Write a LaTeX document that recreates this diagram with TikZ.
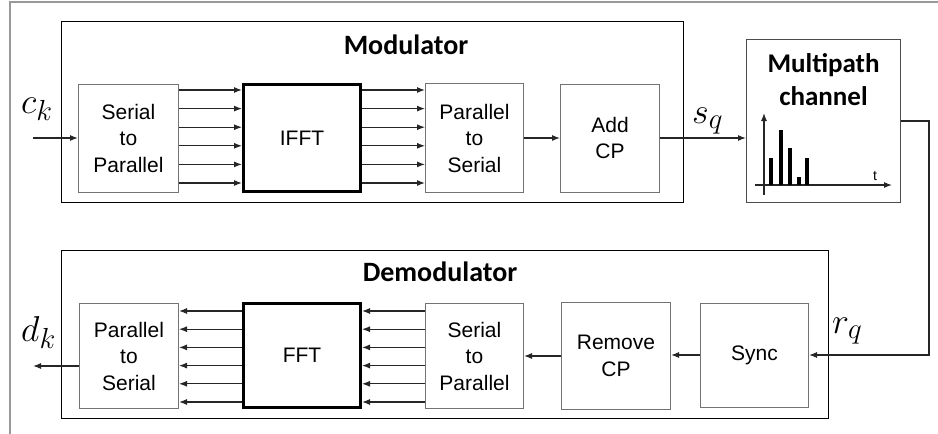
\documentclass[tikz,border=0pt]{standalone}
\usepackage{fix-cm}
\usepackage{fontspec}
\setmainfont{Liberation Sans}
\newfontfamily\titlefont{Carlito}
\DeclareMathSizes{36}{36}{29}{23}
\usetikzlibrary{arrows.meta}

\begin{document}
\begin{tikzpicture}[x=1pt,y=-1pt]
		% Define the styles
		\tikzstyle{block}=[draw=black!55, line width=1pt, inner sep=0pt, align=center,
		font=\fontsize{21}{26.5}\selectfont]
		\tikzstyle{fftblock}=[block, draw=black, line width=3pt]
		\tikzstyle{sig}=[draw=black!85, line width=1.1pt, -{Latex[length=8pt,width=6pt]}]
		\tikzstyle{heading}=[font=\titlefont\bfseries\fontsize{28}{33}\selectfont, align=center]
		\tikzstyle{sym}=[anchor=base west, inner sep=0pt, font=\fontsize{36}{38}\selectfont]
		
		% Page and outer frame
		\useasboundingbox (0,0) rectangle (938,434);
		\draw[black!40, line width=2pt] (10,440) -- (10,2) -- (945,2);
		
		% Modulator
		\draw[line width=1pt] (61,21) rectangle (683,202);
		\node (modtitle) at (406,45) [heading] {Modulator};
		\node (sp1) at (128.5,138) [block, minimum width=100pt, minimum height=108pt] {Serial\\to\\Parallel};
		\node (ifft) at (302,138) [fftblock, minimum width=117pt, minimum height=107pt] {IFFT};
		\node (ps1) at (474.5,138) [block, minimum width=98pt, minimum height=109pt] {Parallel\\to\\Serial};
		\node (addcp) at (610,138) [block, minimum width=99pt, minimum height=108pt] {Add\\CP};
		
		% Multipath channel
		\node (chan) at (823.5,121) [block, draw=black!70, minimum width=154pt, minimum height=163pt] {};
		\node (chantitle) at (823.5,80) [heading, font=\titlefont\bfseries\fontsize{27}{33}\selectfont] {Multipath\\channel};
		\draw[sig] (764,195) -- (764,113);
		\draw[sig] (755,185) -- (892,185);
		\node (t) at (875,176) [font=\fontsize{14}{16}\selectfont] {t};
		\foreach \x/\h in {771/158, 781/130, 790/148, 799/177, 807/158}
		\fill (\x-2,185) rectangle (\x+2,\h);
		
		% Demodulator
		\draw[line width=1pt] (61,250) rectangle (828,418);
		\node (demodtitle) at (440,272) [heading] {Demodulator};
		\node (sync) at (754.5,355) [block, minimum width=108pt, minimum height=104pt] {Sync};
		\node (rmcp) at (616,356) [block, minimum width=109pt, minimum height=107pt] {Remove\\CP};
		\node (sp2) at (474.5,356) [block, minimum width=98pt, minimum height=105pt] {Serial\\to\\Parallel};
		\node (fft) at (302,355.5) [fftblock, minimum width=117pt, minimum height=104pt] {FFT};
		\node (ps2) at (129,356) [block, minimum width=99pt, minimum height=105pt] {Parallel\\to\\Serial};
		
		% Input, output and channel signals
		\coordinate (cin) at (33,138); \coordinate (dout) at (33,366);
		\node (ck) at (21,113) [sym] {$c_k$};
		\node (sq) at (692,123) [sym] {$s_q$};
		\node (rq) at (832,333) [sym] {$r_q$};
		\node (dk) at (21,341) [sym] {$d_k$};
		
		% Connectors
		\draw[sig] (cin) -- (sp1.west);
		\foreach \y in {90,108.6,127.2,145.8,164.4,183} {
			\draw[sig] (sp1.east |- 0,\y) -- (ifft.west |- 0,\y);
			\draw[sig] (ifft.east |- 0,\y) -- (ps1.west |- 0,\y);
		}
		\draw[sig] (ps1.east) -- (addcp.west);
		\draw[sig] (addcp.east) -- (addcp.east -| chan.west);
		\draw[sig] (chan.east) -- ++(28,0) |- (sync.east);
		\draw[sig] (sync.west) -- (sync.west -| rmcp.east);
		\draw[sig] (rmcp.west) -- (sp2.east);
		\foreach \y in {311,329.2,347.4,365.6,383.8,402} {
			\draw[sig] (sp2.west |- 0,\y) -- (fft.east |- 0,\y);
			\draw[sig] (fft.west |- 0,\y) -- (ps2.east |- 0,\y);
		}
		\draw[sig] (ps2.west |- dout) -- (dout);
\end{tikzpicture}
\end{document}
